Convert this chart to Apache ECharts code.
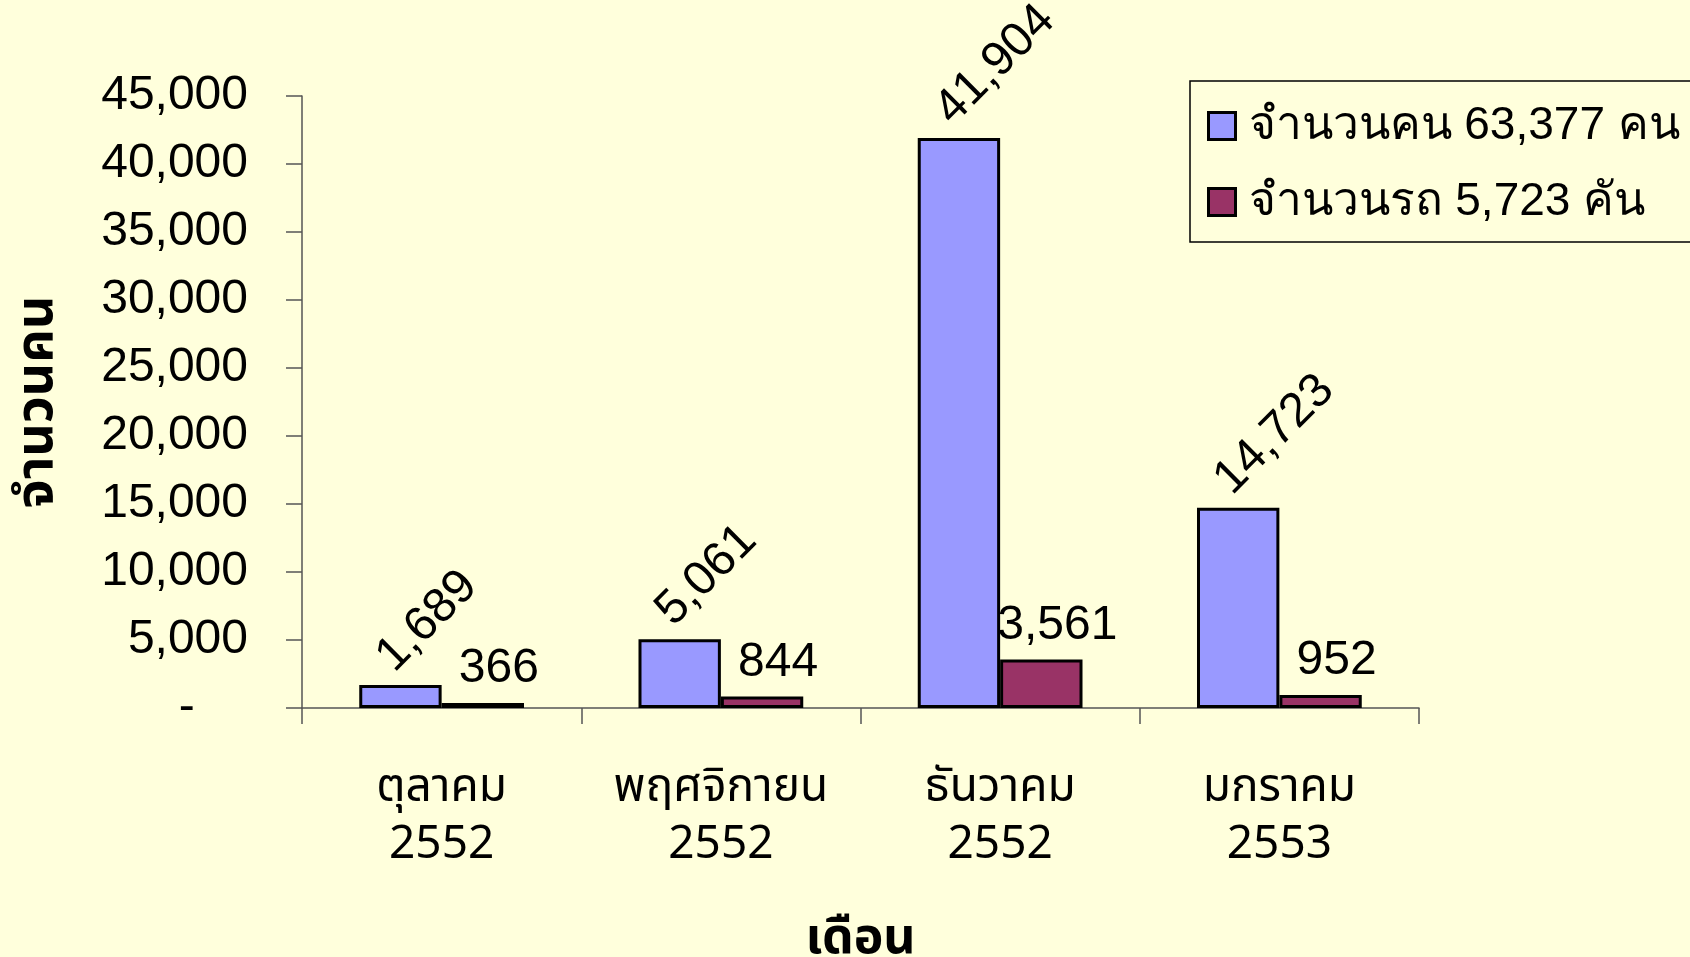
<!DOCTYPE html>
<html>
<head>
<meta charset="UTF-8">
<title>จำนวนคน / จำนวนรถ</title>
<script src="https://cdn.jsdelivr.net/npm/echarts@6/dist/echarts.min.js"></script>
<style>
  html, body { margin: 0; padding: 0; background: #FFFFDC; }
  #chart { width: 1690px; height: 957px; }
</style>
</head>
<body>
<div id="chart"></div>
<script>
var months = ['ตุลาคม\n2552', 'พฤศจิกายน\n2552', 'ธันวาคม\n2552', 'มกราคม\n2553'];
var people = [1689, 5061, 41904, 14723];
var cars = [366, 844, 3561, 952];
var seriesNames = ['จำนวนคน 63,377 คน', 'จำนวนรถ 5,723 คัน'];

var thaiFont = '"Noto Sans Thai", "Noto Sans", "DejaVu Sans", sans-serif';
var numFont = '"Liberation Sans", Arial, sans-serif';

function fmt(v) {
    return v.toString().replace(/\B(?=(\d{3})+(?!\d))/g, ',');
}

var option = {
    backgroundColor: '#FFFFDC',
    animation: false,
    grid: { left: 302, right: 271, top: 96, bottom: 249, outerBoundsMode: 'none' },
    legend: {
        left: 1190,
        top: 81,
        orient: 'vertical',
        icon: 'rect',
        itemWidth: 27,
        itemHeight: 27,
        itemGap: 30,
        padding: [22, 80, 17, 17],
        borderColor: '#000',
        borderWidth: 1.5,
        itemStyle: { borderColor: '#000', borderWidth: 3 },
        textStyle: { fontSize: 46, color: '#000', fontFamily: numFont, padding: [0, 0, 0, 8] },
        data: seriesNames
    },
    xAxis: {
        type: 'category',
        data: months,
        name: 'เดือน',
        nameLocation: 'middle',
        nameGap: 210,
        nameTextStyle: { fontSize: 50, fontWeight: 'bold', color: '#000', fontFamily: thaiFont },
        axisLine: { lineStyle: { color: '#555', width: 1.5 } },
        axisTick: { show: true, length: 16, lineStyle: { color: '#555', width: 1.5 } },
        axisLabel: { interval: 0, margin: 55, fontSize: 46, lineHeight: 57, color: '#000', fontFamily: thaiFont }
    },
    yAxis: {
        type: 'value',
        min: 0,
        max: 45000,
        interval: 5000,
        name: 'จำนวนคน',
        nameLocation: 'middle',
        nameGap: 235,
        nameTextStyle: { fontSize: 52, fontWeight: 'bold', color: '#000', fontFamily: thaiFont },
        splitLine: { show: false },
        axisLine: { show: true, lineStyle: { color: '#555', width: 1.5 } },
        axisTick: { show: true, inside: false, length: 16, lineStyle: { color: '#555', width: 1.5 } },
        axisLabel: {
            margin: 54,
            fontSize: 48,
            color: '#000',
            fontFamily: numFont,
            formatter: function (v) { return v === 0 ? '-    ' : fmt(v); }
        }
    },
    series: [
        {
            name: seriesNames[0],
            type: 'bar',
            data: people,
            barGap: '0%',
            barCategoryGap: '41%',
            itemStyle: { color: '#9999FF', borderColor: '#000', borderWidth: 3 },
            label: {
                show: true,
                position: 'top',
                distance: 0,
                rotate: 45,
                align: 'left',
                verticalAlign: 'middle',
                offset: [4, -26],
                fontSize: 48,
                color: '#000',
                fontFamily: numFont,
                formatter: function (p) { return fmt(p.value); }
            }
        },
        {
            name: seriesNames[1],
            type: 'bar',
            data: cars,
            itemStyle: { color: '#993366', borderColor: '#000', borderWidth: 3 },
            label: {
                show: true,
                position: 'top',
                distance: 10,
                offset: [16, 0],
                fontSize: 48,
                color: '#000',
                fontFamily: numFont,
                formatter: function (p) { return fmt(p.value); }
            }
        }
    ]
};

var myChart = echarts.init(document.getElementById('chart'));
myChart.setOption(option);
</script>
</body>
</html>
